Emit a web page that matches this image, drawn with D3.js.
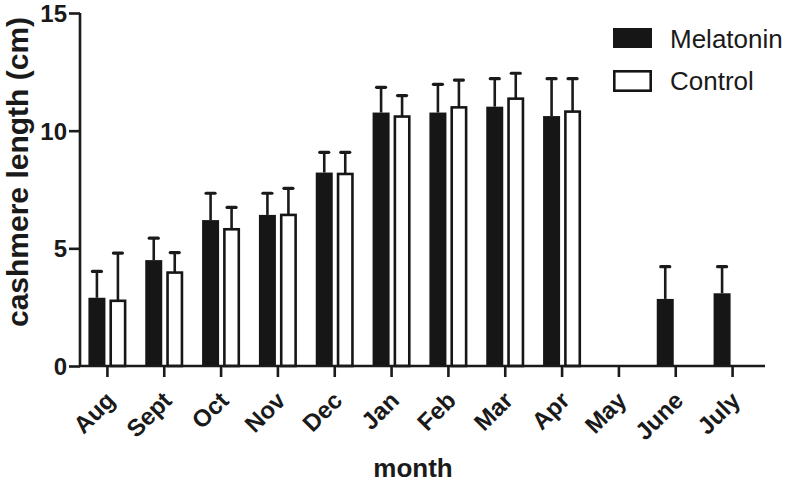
<!DOCTYPE html>
<html>
<head>
<meta charset="utf-8">
<script src="https://cdn.jsdelivr.net/npm/d3@7"></script>
<style>
    body { margin: 0; background: #ffffff; }
    #chart-area { width: 787px; height: 482px; }
    text { font-family: "Liberation Sans", Arial, sans-serif; fill: #1a1a1a; }
</style>
</head>
<body>
<div id="chart-area"></div>
<script>
// values (cm); null = no bar
const months = ["Aug", "Sept", "Oct", "Nov", "Dec", "Jan", "Feb", "Mar", "Apr", "May", "June", "July"];
const melatonin = [2.9, 4.5, 6.2, 6.42, 8.22, 10.77, 10.77, 11.02, 10.62, null, 2.85, 3.09];
const melatoninErr = [1.12, 0.93, 1.14, 0.92, 0.86, 1.07, 1.2, 1.19, 1.59, null, 1.37, 1.13];
const control = [2.77, 3.97, 5.81, 6.42, 8.16, 10.6, 10.99, 11.36, 10.81, null, null, null];
const controlErr = [2.03, 0.85, 0.93, 1.13, 0.92, 0.89, 1.16, 1.08, 1.4, null, null, null];
const yTicks = [0, 5, 10, 15];
const seriesNames = ["Melatonin", "Control"];

class CashmereChart {

    constructor(parentElement) {
        this.parentElement = parentElement;
        this.initVis();
    }

    initVis() {
        let vis = this;

        vis.width = 787;
        vis.height = 482;

        vis.svg = d3.select("#" + vis.parentElement)
            .append("svg")
            .attr("width", vis.width)
            .attr("height", vis.height);

        vis.x = d3.scaleBand()
            .domain(months)
            .range([79, 761])
            .padding(0);

        vis.y = d3.scaleLinear()
            .domain([0, 15])
            .range([366, 13]);

        // width of each bar and the gap either side of the tick
        vis.barW = 17;
        vis.gap = 2;

        vis.wrangleData();
    }

    wrangleData() {
        let vis = this;

        vis.rows = [];
        months.forEach((m, i) => {
            if (melatonin[i] != null) vis.rows.push({ month: m, group: 0, value: melatonin[i], err: melatoninErr[i] });
            if (control[i] != null) vis.rows.push({ month: m, group: 1, value: control[i], err: controlErr[i] });
        });

        vis.updateVis();
    }

    barX(d) {
        let vis = this;
        let c = vis.x(d.month) + vis.x.bandwidth() / 2;
        return d.group === 0 ? c - vis.gap - vis.barW : c + vis.gap;
    }

    updateVis() {
        let vis = this;

        // error bars first, bars drawn over them
        let err = vis.svg.append("g").attr("class", "errors")
            .selectAll("g")
            .data(vis.rows)
            .enter()
            .append("g");

        err.append("line")
            .attr("x1", d => vis.barX(d) + vis.barW / 2)
            .attr("x2", d => vis.barX(d) + vis.barW / 2)
            .attr("y1", d => vis.y(d.value))
            .attr("y2", d => vis.y(d.value + d.err))
            .attr("stroke", "#1a1a1a")
            .attr("stroke-width", 2.6);

        err.append("line")
            .attr("x1", d => vis.barX(d) + vis.barW / 2 - 4.5)
            .attr("x2", d => vis.barX(d) + vis.barW / 2 + 4.5)
            .attr("y1", d => vis.y(d.value + d.err))
            .attr("y2", d => vis.y(d.value + d.err))
            .attr("stroke", "#1a1a1a")
            .attr("stroke-width", 3.2)
            .attr("stroke-linecap", "round");

        vis.svg.append("g").attr("class", "bars")
            .selectAll("rect")
            .data(vis.rows)
            .enter()
            .append("rect")
            .attr("x", d => d.group === 0 ? vis.barX(d) : vis.barX(d) + 1.3)
            .attr("width", d => d.group === 0 ? vis.barW : vis.barW - 2.6)
            .attr("y", d => vis.y(d.value))
            .attr("height", d => vis.y(0) - vis.y(d.value))
            .attr("fill", d => d.group === 0 ? "#161616" : "#ffffff")
            .attr("stroke", d => d.group === 0 ? "none" : "#161616")
            .attr("stroke-width", 2.6);

        // y axis
        let yAxis = d3.axisLeft(vis.y)
            .tickValues(yTicks)
            .tickSize(11)
            .tickPadding(2);

        let yG = vis.svg.append("g")
            .attr("transform", "translate(80,0)")
            .call(yAxis);
        yG.selectAll("path, line").attr("stroke", "#1a1a1a").attr("stroke-width", 2.6);
        yG.select(".domain").attr("d", `M0,${vis.y(15)}V${vis.y(0)}`);
        yG.selectAll("text")
            .style("font-size", "24px")
            .style("font-weight", "bold")
            .attr("fill", "#1a1a1a")
            .attr("dy", "0.36em");

        // x axis
        let xAxis = d3.axisBottom(vis.x)
            .tickSize(11)
            .tickSizeOuter(0);

        let xG = vis.svg.append("g")
            .attr("transform", `translate(0,${vis.y(0)})`)
            .call(xAxis);
        xG.selectAll("path, line").attr("stroke", "#1a1a1a").attr("stroke-width", 2.6);
        xG.select(".domain").attr("d", "M80,0H765");
        xG.selectAll("text")
            .style("font-size", "24px")
            .style("font-weight", "bold")
            .attr("fill", "#1a1a1a")
            .attr("text-anchor", "end")
            .attr("y", 0)
            .attr("dy", 0)
            .attr("transform", "translate(9,36) rotate(-45)");

        // axis titles
        vis.svg.append("text")
            .attr("transform", "translate(28,172) rotate(-90)")
            .attr("text-anchor", "middle")
            .style("font-size", "30px")
            .style("font-weight", "bold")
            .text("cashmere length (cm)");

        vis.svg.append("text")
            .attr("x", 413)
            .attr("y", 477)
            .attr("text-anchor", "middle")
            .style("font-size", "26px")
            .style("font-weight", "bold")
            .text("month");

        // legend
        let legend = vis.svg.append("g").attr("class", "legend")
            .selectAll("g")
            .data(seriesNames)
            .enter()
            .append("g")
            .attr("transform", (d, i) => `translate(613, ${28 + i * 42})`);

        legend.append("rect")
            .attr("x", (d, i) => i === 0 ? 0 : 1.3)
            .attr("y", (d, i) => i === 0 ? 0 : 1.3)
            .attr("width", (d, i) => i === 0 ? 39 : 36.4)
            .attr("height", (d, i) => i === 0 ? 20 : 19.4)
            .attr("fill", (d, i) => i === 0 ? "#161616" : "#ffffff")
            .attr("stroke", (d, i) => i === 0 ? "none" : "#161616")
            .attr("stroke-width", 2.6);

        legend.append("text")
            .attr("x", 57)
            .attr("y", 20)
            .style("font-size", "26px")
            .text(d => d);
    }
}

new CashmereChart("chart-area");
</script>
</body>
</html>
